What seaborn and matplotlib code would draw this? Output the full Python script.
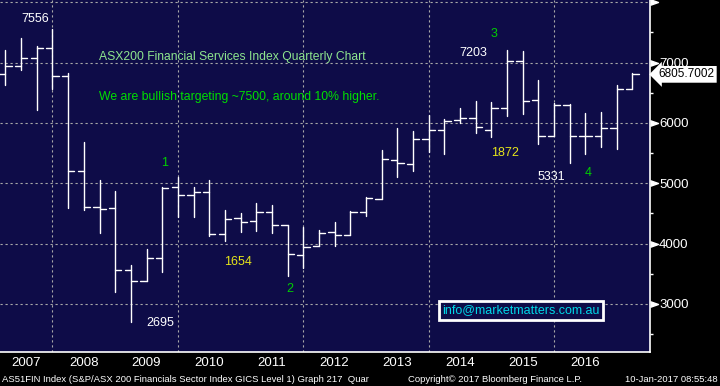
import numpy as np
import pandas as pd
import seaborn as sns
import matplotlib.pyplot as plt

# quarterly OHLC (AS51FIN Index)
quarters = pd.period_range("2007Q1", "2017Q1", freq="Q")
opens = [6807, 6950, 7072, 7238, 6774, 5199, 4602, 4585, 3558, 3387,
         3768, 4934, 4801, 4862, 4155, 4420, 4370, 4525, 4304, 3813,
         3961, 4188, 4138, 4519, 4746, 5381, 5315, 5729, 5878, 6044,
         6077, 5878, 6254, 7022, 6381, 5779, 6293, 5779, 5779, 5912, 6558]
highs = [7210, 7403, 7276, 7556, 6823, 5680, 5050, 4867, 3641, 3917,
         4934, 5105, 4934, 5055, 4558, 4508, 4679, 4641, 4309, 4271,
         4226, 4359, 4536, 4779, 5547, 5917, 5867, 6133, 6066, 6243,
         6365, 6343, 7203, 7188, 6713, 6326, 6309, 6160, 6177, 6624, 6823]
lows = [6630, 6878, 6215, 6558, 4597, 4558, 4182, 3204, 2695, 3387,
        3536, 4447, 4447, 4127, 4049, 4193, 4215, 4171, 3470, 3597,
        3961, 3961, 4138, 4464, 4746, 5110, 5210, 5519, 5492, 5994,
        5829, 5773, 6122, 6155, 5652, 5779, 5331, 5492, 5608, 5574, 6558]
closes = [6950, 7072, 7238, 6774, 5199, 4602, 4569, 3558, 3387, 3768,
          4930, 4801, 4862, 4155, 4403, 4352, 4525, 4304, 3829, 3950,
          4171, 4138, 4525, 4751, 5398, 5331, 5729, 5878, 6028, 6077,
          5939, 6254, 7022, 6365, 5779, 6293, 5779, 5779, 5912, 6558, 6806]
last_price = 6805.7002

years = list(range(2007, 2017))
price_ticks = [3000, 4000, 5000, 6000, 7000, 8000]
price_labels = ["3000", "4000", "5000", "6000", "7000", ""]

navy = "#0e0c48"
sns.set_theme(style="dark", rc={"figure.facecolor": "black", "axes.facecolor": navy})
plt.rcParams["font.family"] = ["Liberation Sans", "DejaVu Sans"]

# bars are stamped at quarter end, like Bloomberg does
x = np.array([q.year + q.quarter / 4 for q in quarters])
tick = 0.1
segs = []
for i, xi in enumerate(x):
    segs += [(3 * i, xi, lows[i]), (3 * i, xi, highs[i]),
             (3 * i + 1, xi - tick, opens[i]), (3 * i + 1, xi, opens[i]),
             (3 * i + 2, xi, closes[i]), (3 * i + 2, xi + tick, closes[i])]
bars = pd.DataFrame(segs, columns=["seg", "x", "price"])

fig = plt.figure(figsize=(7.2, 3.86), dpi=100)
ax = fig.add_axes([0, 34 / 386, 650 / 720, 352 / 386])

sns.lineplot(data=bars, x="x", y="price", units="seg", estimator=None, sort=False,
             color="white", lw=1.0, ax=ax, zorder=3)

x0, x1 = 2007.163, 2017.53
ax.set_xlim(x0, x1)
ax.set_ylim(2204, 8038)
ax.set_xlabel("")
ax.set_ylabel("")

# grid: dotted, horizontal on every 1000, vertical every other year
grid_kw = dict(color="#a8a8a8", lw=0.8, ls=(0, (2, 2.5)), zorder=1)
for p in price_ticks:
    ax.axhline(p, **grid_kw)
for yr in range(2008, 2017, 2):
    ax.axvline(yr, **grid_kw)
ax.grid(False)

# x axis: separators at year boundaries, labels centred in each year
ax.set_xticks(range(2008, 2018))
ax.set_xticklabels([])
centres = [((max(y, x0) + y + 1) / 2) for y in years]
ax.set_xticks(centres, minor=True)
ax.set_xticklabels([str(y) for y in years], minor=True)
ax.tick_params(axis="x", which="major", length=6, width=1, color="#c8c8c8", direction="out")
ax.tick_params(axis="x", which="minor", length=0, pad=3.5, labelsize=9.5, labelcolor="white")

# y axis on the right with triangle markers
ax.yaxis.tick_right()
ax.set_yticks(price_ticks)
ax.set_yticklabels(price_labels)
ax.set_yticks(np.arange(2500, 8000, 1000), minor=True)
ax.tick_params(axis="y", which="major", length=0, pad=6.5, labelsize=9.5, labelcolor="white")
ax.tick_params(axis="y", which="minor", length=2.3, width=1, color="white", direction="out")
ax.plot(np.ones(len(price_ticks)), price_ticks, transform=ax.get_yaxis_transform(),
        ls="none", marker=[(0, -0.35), (1, 0), (0, 0.35)], ms=11.5, color="white",
        clip_on=False, zorder=4)

for side in ["left", "top"]:
    ax.spines[side].set_visible(False)
for side in ["right", "bottom"]:
    ax.spines[side].set_visible(True)
    ax.spines[side].set_color("white")
    ax.spines[side].set_linewidth(1.2)

ax.text(1.0128, last_price, f"{last_price:.4f}", transform=ax.get_yaxis_transform(),
        ha="left", va="center", color="black", fontsize=8.5, clip_on=False, zorder=6,
        bbox=dict(boxstyle="larrow,pad=0.2", fc="white", ec="none"))

# notes on the chart
ax.text(2008.742, 7088, "ASX200 Financial Services Index Quarterly Chart",
        color="#8ee68e", fontsize=8.7, va="center")
ax.text(2008.742, 6435, "We are bullish targeting ~7500, around 10% higher.",
        color="#00e000", fontsize=8.8, va="center")
notes = [(2007.72, 7728, "7556", "white"), (2009.714, 2680, "2695", "white"),
         (2014.711, 7155, "7203", "white"), (2015.962, 5099, "5331", "white"),
         (2010.963, 3700, "1654", "#e6e61a"), (2015.217, 5497, "1872", "#e6e61a"),
         (2009.794, 5341, "1", "#00d000"), (2011.788, 3243, "2", "#00d000"),
         (2015.041, 7470, "3", "#00d000"), (2016.545, 5166, "4", "#00d000")]
for nx, ny, s, c in notes:
    ax.text(nx, ny, s, color=c, fontsize=9, ha="center", va="center")
ax.text(2015.472, 2892, "info@marketmatters.com.au", color="#00d8e8", fontsize=9,
        ha="center", va="center",
        bbox=dict(boxstyle="square,pad=0.3", fc=navy, ec="white", lw=2))

# footer
fig.text(0.003, 0.018, "AS51FIN Index (S&P/ASX 200 Financials Sector Index GICS Level 1) Graph 217  Quar",
         color="white", fontsize=6.8, va="center")
fig.text(408 / 720, 0.018, "Copyright\u00a9 2017 Bloomberg Finance L.P.",
         color="white", fontsize=6.8, va="center")
fig.text(0.997, 0.018, "10-Jan-2017 08:55:48", color="white", fontsize=6.8,
         va="center", ha="right")

fig.savefig("out.png", dpi=100, facecolor="black")
